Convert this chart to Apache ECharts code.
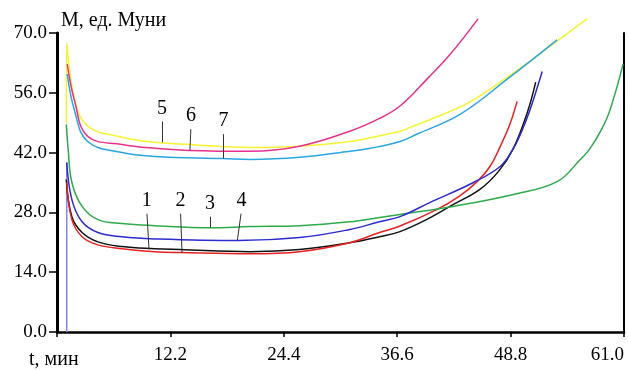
<!DOCTYPE html>
<html>
<head>
<meta charset="utf-8">
<script src="https://cdn.jsdelivr.net/npm/echarts@6/dist/echarts.min.js"></script>
<style>
html,body{margin:0;padding:0;background:#fff;}
#chart{width:628px;height:370px;}
</style>
</head>
<body>
<div id="chart"></div>
<script>
// ---- data (t, мин ; M, ед. Муни) ----
const xTicks = [0, 12.2, 24.4, 36.6, 48.8, 61.0];
const yTicks = [0, 14, 28, 42, 56, 70];
const curveNames = ['1', '2', '3', '4', '5', '6', '7'];
const curveColors = ['#111111', '#e62222', '#2eaa4c', '#2b2bcf', '#f4f432', '#e8318c', '#2aa6e2'];

const curve1 = [[1.0,35.7],[1.6,27.0],[2.7,23.3],[4.4,21.1],[7.0,20.0],[10.5,19.5],[13.2,19.3],[20.8,18.8],[26.1,19.3],[31.5,20.9],[34.7,22.3],[36.9,23.5],[40.0,26.6],[42.6,29.8],[45.5,33.4],[47.5,37.6],[49.1,43.0],[50.6,51.4],[51.5,58.5]];
const curve2 = [[1.05,35.0],[1.6,26.3],[2.7,22.3],[4.4,20.4],[7.0,19.5],[10.5,18.8],[13.2,18.6],[20.8,18.3],[26.1,18.8],[31.5,20.9],[34.7,23.3],[36.9,24.8],[40.9,28.7],[43.3,31.8],[45.2,35.2],[46.6,38.8],[47.7,43.5],[48.7,48.5],[49.5,54.0]];
const curve3 = [[1.0,48.6],[1.2,42.8],[1.6,35.0],[2.7,29.4],[4.4,26.3],[7.0,25.4],[10.5,24.9],[16.5,24.4],[20.8,24.7],[26.1,24.9],[31.5,25.8],[34.7,26.8],[36.9,27.5],[42.6,29.4],[49.1,32.2],[53.8,35.2],[56.3,40.4],[57.3,42.8],[58.6,47.5],[59.5,52.0],[60.9,62.7]];
const curve4start = [[1.05,0],[1.05,39.7]];
const curve4 = [[1.05,39.7],[1.6,31.0],[2.7,25.8],[4.4,23.3],[7.0,22.3],[10.5,21.8],[19.5,21.4],[26.1,22.1],[31.5,24.0],[34.7,25.8],[36.9,27.0],[40.1,30.3],[44.8,35.0],[47.7,38.8],[49.1,43.0],[50.0,47.0],[50.9,52.1],[52.2,61.0]];
const curve5 = [[1.0,49.0],[1.05,67.7],[1.9,54.5],[3.3,48.2],[7.0,45.6],[10.5,44.4],[15.0,43.8],[20.8,43.2],[26.1,43.5],[31.5,44.6],[36.9,47.0],[38.0,47.9],[41.0,50.5],[44.4,53.8],[49.0,60.5],[53.8,68.1],[57.0,73.3]];
const curve6 = [[1.1,62.7],[1.9,54.0],[3.3,45.8],[7.0,43.9],[10.5,43.0],[14.2,42.5],[20.8,42.3],[26.1,43.5],[31.5,47.0],[34.7,50.0],[36.9,52.9],[39.8,59.2],[42.3,65.0],[45.3,73.3]];
const curve7 = [[1.1,60.4],[1.9,51.7],[3.3,44.6],[7.0,42.0],[10.5,41.1],[17.9,40.6],[20.8,40.4],[26.1,40.9],[31.5,42.3],[33.7,43.0],[36.9,44.6],[38.7,46.3],[43.4,51.0],[48.5,59.3],[53.8,68.4]];

// curve number callouts: top of leader line and point on curve
const labelTop = [[9.68,27.7],[13.3,27.7],[16.46,27.0],[19.8,27.7],[11.3,49.3],[14.4,47.5],[17.9,46.3]];
const labelTip = [[9.9,19.3],[13.45,18.6],[16.46,24.4],[19.4,21.4],[11.3,44.4],[14.3,42.5],[17.9,40.6]];

const curves = [curve1, curve2, curve3, curve4, curve5, curve6, curve7];

const serif = '"Liberation Serif", "DejaVu Serif", serif';

const series = curves.map((d, i) => ({
  name: curveNames[i],
  type: 'line',
  data: d,
  showSymbol: false,
  smooth: 0.4,
  clip: false,
  lineStyle: { color: curveColors[i], width: 1.5 },
  itemStyle: { color: curveColors[i] },
  z: 3,
  markLine: {
    silent: true,
    symbol: ['none', 'none'],
    animation: false,
    lineStyle: { color: '#333', width: 1, type: 'solid' },
    label: {
      show: true, position: 'start', distance: 3,
      formatter: curveNames[i],
      fontFamily: serif, fontSize: 20, color: '#000'
    },
    data: [[{ coord: labelTop[i] }, { coord: labelTip[i] }]]
  }
}));
series.push({
  name: '4 start',
  type: 'line',
  data: curve4start,
  showSymbol: false,
  clip: false,
  lineStyle: { color: '#8585ee', width: 1.5 },
  z: 2
});

const chart = echarts.init(document.getElementById('chart'), null, { renderer: 'canvas' });
chart.setOption({
  animation: false,
  backgroundColor: '#fff',
  grid: { left: 57, right: 4, top: 33, bottom: 38 },
  xAxis: {
    type: 'value',
    min: xTicks[0], max: xTicks[xTicks.length - 1], interval: 12.2,
    axisLine: { show: true, onZero: false, lineStyle: { color: '#000', width: 2.5 } },
    axisTick: { show: true, inside: false, length: 5, lineStyle: { color: '#000', width: 1.5 } },
    axisLabel: {
      margin: 14, fontFamily: serif, fontSize: 19, color: '#000',
      alignMaxLabel: 'right',
      formatter: v => (Math.abs(v) < 1e-9 ? '' : v.toFixed(1))
    },
    splitLine: { show: false }
  },
  yAxis: [{
    type: 'value',
    min: yTicks[0], max: yTicks[yTicks.length - 1], interval: 14,
    name: 'M, ед. Муни',
    nameLocation: 'end',
    nameGap: 2,
    nameTextStyle: { fontFamily: serif, fontSize: 20, color: '#000', align: 'left', padding: [0, 0, 0, 4] },
    axisLine: { show: true, lineStyle: { color: '#000', width: 3 } },
    axisTick: { show: true, length: 8, lineStyle: { color: '#000', width: 1.5 } },
    axisLabel: { margin: 10, fontFamily: serif, fontSize: 19, color: '#000', formatter: v => v.toFixed(1) },
    splitLine: { show: false }
  }, {
    type: 'value', position: 'right',
    min: 0, max: 70, interval: 14,
    axisLine: { show: true, lineStyle: { color: '#000', width: 2 } },
    axisTick: { show: false }, axisLabel: { show: false }, splitLine: { show: false }
  }],
  graphic: [{
    type: 'text', left: 29, top: 350,
    style: { text: 't, мин', font: '20px ' + serif, fill: '#000' }
  }],
  series: series
});
</script>
</body>
</html>
